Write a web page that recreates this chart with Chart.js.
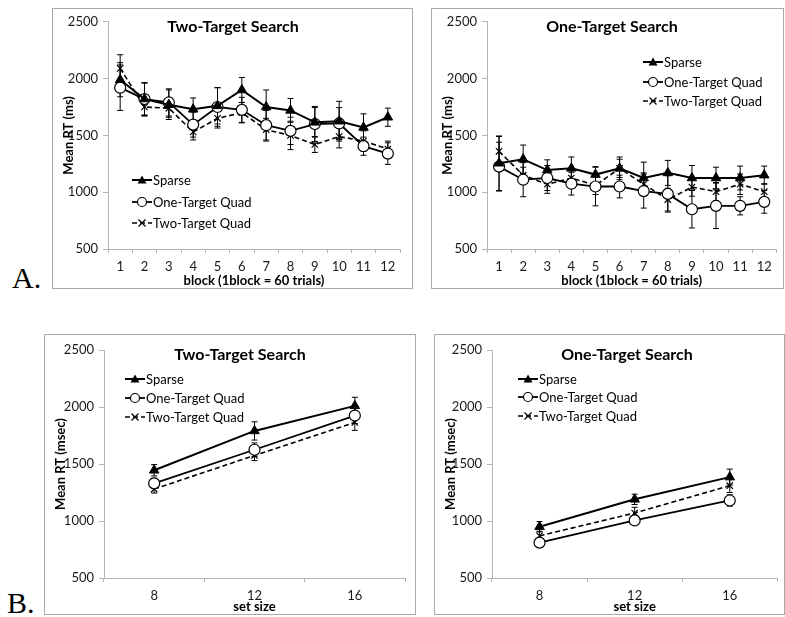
<!DOCTYPE html>
<html>
<head>
<meta charset="utf-8">
<script src="https://cdn.jsdelivr.net/npm/chart.js@4.4.0/dist/chart.umd.min.js"></script>
<style>
    body { margin: 0; background: #fff; width: 785px; height: 617px; position: relative; overflow: hidden; }
    .panel { position: absolute; border: 1px solid #a9a9a9; background: #fff; }
    .panel canvas { position: absolute; left: 0; top: 0; }
    .tag { position: absolute; font-family: "Liberation Serif", "DejaVu Serif", serif; font-size: 30px; color: #000; line-height: 1; }
</style>
</head>
<body>
<div class="tag" style="left:12px; top:263px;">A.</div>
<div class="tag" style="left:7px; top:588px;">B.</div>

<div class="panel" style="left:52px; top:8px; width:359px; height:279px;"><canvas id="chartA1" width="359" height="279"></canvas></div>
<div class="panel" style="left:431px; top:8px; width:351px; height:279px;"><canvas id="chartA2" width="351" height="279"></canvas></div>
<div class="panel" style="left:44px; top:334px; width:370px; height:279px;"><canvas id="chartB1" width="370" height="279"></canvas></div>
<div class="panel" style="left:434px; top:334px; width:349px; height:279px;"><canvas id="chartB2" width="349" height="279"></canvas></div>

<script>
// Data
const blocks = ['1', '2', '3', '4', '5', '6', '7', '8', '9', '10', '11', '12'];
const setSizes = ['8', '12', '16'];
const seriesNames = ['Sparse', 'One-Target Quad', 'Two-Target Quad'];

// A. Two-Target Search, by block
const twoBlockSparse = [1990, 1820, 1770, 1730, 1760, 1900, 1750, 1720, 1615, 1625, 1570, 1660];
const twoBlockOneQuad = [1920, 1820, 1790, 1595, 1750, 1725, 1590, 1540, 1600, 1605, 1405, 1340];
const twoBlockTwoQuad = [2090, 1750, 1740, 1530, 1650, 1700, 1550, 1500, 1420, 1490, 1450, 1380];
const twoBlockSparseErr = [150, 145, 130, 100, 160, 110, 150, 105, 130, 175, 120, 80];
const twoBlockOneQuadErr = [200, 140, 120, 110, 170, 110, 130, 120, 155, 140, 80, 95];
const twoBlockTwoQuadErr = [120, 80, 80, 70, 85, 90, 100, 125, 70, 100, 90, 70];

// A. One-Target Search, by block
const oneBlockSparse = [1255, 1290, 1195, 1210, 1155, 1210, 1125, 1170, 1125, 1125, 1125, 1150];
const oneBlockOneQuad = [1225, 1110, 1125, 1075, 1050, 1050, 1010, 985, 850, 880, 880, 915];
const oneBlockTwoQuad = [1360, 1150, 1070, 1125, 1060, 1210, 1070, 935, 1045, 1005, 1070, 1005];
const oneBlockSparseErr = [240, 125, 90, 100, 70, 100, 140, 110, 110, 95, 105, 80];
const oneBlockOneQuadErr = [215, 150, 110, 100, 170, 100, 150, 160, 165, 200, 80, 100];
const oneBlockTwoQuadErr = [130, 70, 80, 80, 80, 80, 100, 100, 80, 80, 90, 70];

// B. by set size
const twoSetSparse = [1445, 1790, 2010];
const twoSetOneQuad = [1330, 1625, 1925];
const twoSetTwoQuad = [1280, 1575, 1865];
const twoSetSparseErr = [50, 80, 75];
const twoSetOneQuadErr = [45, 60, 70];
const twoSetTwoQuadErr = [35, 45, 70];

const oneSetSparse = [950, 1190, 1385];
const oneSetOneQuad = [810, 1005, 1180];
const oneSetTwoQuad = [870, 1070, 1310];
const oneSetSparseErr = [45, 45, 70];
const oneSetOneQuadErr = [30, 35, 50];
const oneSetTwoQuadErr = [40, 50, 60];

const yMin = 500, yMax = 2500, yStep = 500;

const FONT = 'Lato, "Open Sans", sans-serif';
const AXIS_GRAY = '#b5b5b5';

function drawMarker(ctx, style, x, y, r) {
    ctx.beginPath();
    if (style === 'triangle') {
        ctx.moveTo(x, y - r);
        ctx.lineTo(x + r, y + r * 0.8);
        ctx.lineTo(x - r, y + r * 0.8);
        ctx.closePath();
        ctx.fillStyle = '#000';
        ctx.fill();
    } else if (style === 'circle') {
        ctx.arc(x, y, r, 0, Math.PI * 2);
        ctx.fillStyle = '#fff';
        ctx.fill();
        ctx.lineWidth = 1.2;
        ctx.setLineDash([]);
        ctx.stroke();
    } else {
        ctx.moveTo(x - r, y - r); ctx.lineTo(x + r, y + r);
        ctx.moveTo(x + r, y - r); ctx.lineTo(x - r, y + r);
        ctx.lineWidth = 1.2;
        ctx.setLineDash([]);
        ctx.stroke();
    }
}

// error bars under the markers
const errorBarPlugin = {
    id: 'errorBars',
    beforeDatasetsDraw(chart) {
        const ctx = chart.ctx;
        const yScale = chart.scales.y;
        ctx.save();
        ctx.strokeStyle = '#000';
        ctx.lineWidth = 1;
        chart.data.datasets.forEach((ds, i) => {
            if (!ds.errors) return;
            const meta = chart.getDatasetMeta(i);
            meta.data.forEach((pt, j) => {
                const v = ds.data[j], e = ds.errors[j];
                const top = yScale.getPixelForValue(v + e);
                const bot = yScale.getPixelForValue(v - e);
                ctx.beginPath();
                ctx.moveTo(pt.x, top); ctx.lineTo(pt.x, bot);
                ctx.moveTo(pt.x - 3, top); ctx.lineTo(pt.x + 3, top);
                ctx.moveTo(pt.x - 3, bot); ctx.lineTo(pt.x + 3, bot);
                ctx.stroke();
            });
        });
        ctx.restore();
    }
};

// title + legend drawn inside the plot
const insideTextPlugin = {
    id: 'insideText',
    afterDraw(chart, args, opts) {
        const ctx = chart.ctx;
        ctx.save();
        ctx.fillStyle = '#000';
        ctx.font = 'bold 16px ' + FONT;
        ctx.textAlign = 'center';
        ctx.textBaseline = 'middle';
        ctx.fillText(opts.title, opts.titleX, opts.titleY);

        ctx.font = '13px ' + FONT;
        ctx.textAlign = 'left';
        chart.data.datasets.forEach((ds, i) => {
            const y = opts.legendY[i];
            const x = opts.legendX;
            ctx.strokeStyle = '#000';
            ctx.lineWidth = ds.borderWidth;
            ctx.setLineDash(ds.borderDash || []);
            ctx.beginPath();
            ctx.moveTo(x, y); ctx.lineTo(x + 20, y);
            ctx.stroke();
            drawMarker(ctx, ds.pointStyle, x + 10, y, ds.pointStyle === 'crossRot' ? 3.5 : 4.5);
            ctx.fillStyle = '#000';
            ctx.fillText(ds.label, x + 21, y + 1);
        });
        ctx.restore();
    }
};

function makeDatasets(sparse, oneQuad, twoQuad, sparseErr, oneQuadErr, twoQuadErr) {
    return [
        { label: seriesNames[0], data: sparse, errors: sparseErr, borderColor: '#000', backgroundColor: '#000',
          borderWidth: 2, pointStyle: 'triangle', pointRadius: 5.5, pointBorderWidth: 1 },
        { label: seriesNames[1], data: oneQuad, errors: oneQuadErr, borderColor: '#000', backgroundColor: '#fff',
          borderWidth: 1.8, pointStyle: 'circle', pointRadius: 5.5, pointBorderWidth: 1.2 },
        { label: seriesNames[2], data: twoQuad, errors: twoQuadErr, borderColor: '#000', backgroundColor: '#000',
          borderWidth: 1.6, borderDash: [5, 3], pointStyle: 'crossRot', pointRadius: 4.5, pointBorderWidth: 1.2 }
    ];
}

function makePanel(id, labels, datasets, p) {
    new Chart(document.getElementById(id), {
        type: 'line',
        data: { labels: labels, datasets: datasets },
        options: {
            responsive: false,
            animation: false,
            events: [],
            tension: 0,
            layout: { padding: { left: 0, right: p.padRight, top: p.padTop, bottom: 0 } },
            plugins: {
                legend: { display: false },
                tooltip: { enabled: false },
                insideText: { title: p.title, titleX: p.titleX, titleY: p.titleY, legendX: p.legendX, legendY: p.legendY }
            },
            scales: {
                x: {
                    type: 'category',
                    offset: true,
                    afterFit: s => { s.height = p.xHeight; },
                    grid: { display: true, drawOnChartArea: false, drawTicks: true, tickLength: 4, color: AXIS_GRAY, offset: true },
                    border: { color: AXIS_GRAY, width: 1 },
                    ticks: { color: '#1a1a1a', font: { family: FONT, size: 13 }, padding: 6, maxRotation: 0, autoSkip: false },
                    title: { display: true, text: p.xTitle, color: '#000', font: { family: FONT, size: 13, weight: 'bold', lineHeight: 1.1 }, padding: { top: 0, bottom: 0 } }
                },
                y: {
                    min: yMin, max: yMax,
                    afterFit: s => { s.width = p.yWidth; },
                    grid: { display: true, drawOnChartArea: false, drawTicks: true, tickLength: 5, color: AXIS_GRAY },
                    border: { color: AXIS_GRAY, width: 1 },
                    ticks: { stepSize: yStep, color: '#1a1a1a', font: { family: FONT, size: 13 }, padding: 5, callback: v => String(v) },
                    title: { display: true, text: p.yTitle, color: '#000', font: { family: FONT, size: 13, weight: 'bold', lineHeight: 1.1 }, padding: { top: 9, bottom: 0 } }
                }
            }
        },
        plugins: [errorBarPlugin, insideTextPlugin]
    });
}

makePanel('chartA1', blocks,
    makeDatasets(twoBlockSparse, twoBlockOneQuad, twoBlockTwoQuad, twoBlockSparseErr, twoBlockOneQuadErr, twoBlockTwoQuadErr),
    { title: 'Two-Target Search', titleX: 180, titleY: 18, legendX: 79, legendY: [171, 193, 214],
      xTitle: 'block (1block = 60 trials)', yTitle: 'Mean RT (ms)', yWidth: 55, xHeight: 39, padRight: 12, padTop: 12 });

makePanel('chartA2', blocks,
    makeDatasets(oneBlockSparse, oneBlockOneQuad, oneBlockTwoQuad, oneBlockSparseErr, oneBlockOneQuadErr, oneBlockTwoQuadErr),
    { title: 'One-Target Search', titleX: 180, titleY: 18, legendX: 211, legendY: [53, 73, 92],
      xTitle: 'block (1block = 60 trials)', yTitle: 'Mean RT (ms)', yWidth: 55, xHeight: 39, padRight: 4, padTop: 12 });

makePanel('chartB1', setSizes,
    makeDatasets(twoSetSparse, twoSetOneQuad, twoSetTwoQuad, twoSetSparseErr, twoSetOneQuadErr, twoSetTwoQuadErr),
    { title: 'Two-Target Search', titleX: 195, titleY: 20, legendX: 80, legendY: [44, 63, 82],
      xTitle: 'set size', yTitle: 'Mean RT (msec)', yWidth: 59, xHeight: 36, padRight: 10, padTop: 15 });

makePanel('chartB2', setSizes,
    makeDatasets(oneSetSparse, oneSetOneQuad, oneSetTwoQuad, oneSetSparseErr, oneSetOneQuadErr, oneSetTwoQuadErr),
    { title: 'One-Target Search', titleX: 192, titleY: 20, legendX: 83, legendY: [44, 62, 81],
      xTitle: 'set size', yTitle: 'Mean RT (msec)', yWidth: 57, xHeight: 36, padRight: 0, padTop: 15 });
</script>
</body>
</html>
